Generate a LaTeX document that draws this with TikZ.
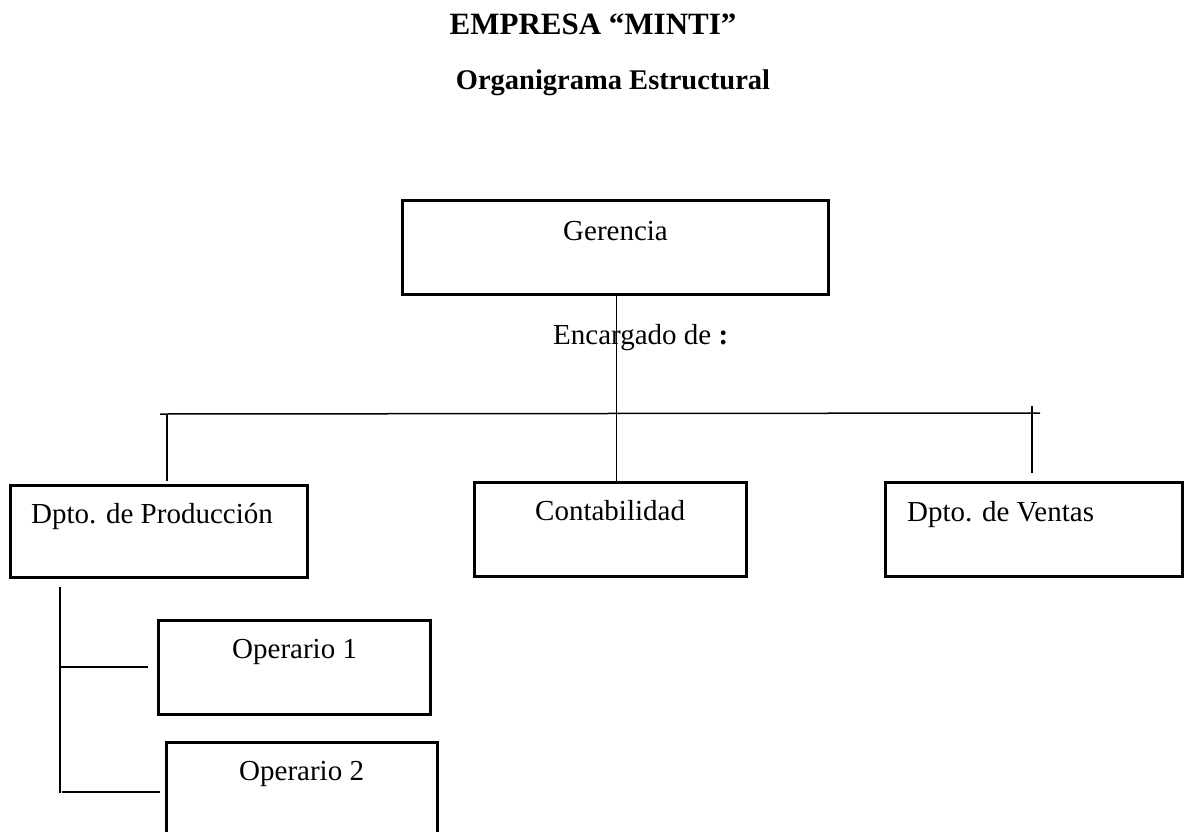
\documentclass[tikz,border=0pt]{standalone}
\usepackage{fontspec}
\setmainfont{Liberation Serif}
\begin{document}
\begin{tikzpicture}[x=1pt,y=-1pt,
  unit/.style={draw=black,line width=3pt,rectangle,inner sep=0pt},
  lbl/.style={anchor=base west,inner sep=0pt,font=\fontsize{29}{34}\selectfont},
  ttl/.style={anchor=base,inner sep=0pt,font=\fontsize{30}{34}\selectfont\bfseries},
  link/.style={draw=black,line width=1.5pt}]
\useasboundingbox (0,0) rectangle (1184,831);
\clip (0,0) rectangle (1184,831);

% headings
\node[ttl,font=\fontsize{31}{36}\selectfont\bfseries] (title) at (593,34) {EMPRESA “MINTI”};
\node[ttl,font=\fontsize{28.5}{34}\selectfont\bfseries] (subtitle) at (613,89) {Organigrama Estructural};

% units
\node[unit,minimum width=426pt,minimum height=94pt] (ger) at (615,247) {};
\node[unit,minimum width=297pt,minimum height=92pt] (prod) at (158.5,531) {};
\node[unit,minimum width=272pt,minimum height=94pt] (cont) at (610,529) {};
\node[unit,minimum width=297pt,minimum height=94pt] (vent) at (1033.5,529) {};
\node[unit,minimum width=272pt,minimum height=94pt] (op1) at (294,667) {};
\node[unit,minimum width=271pt,minimum height=94pt] (op2) at (301.5,789) {};

% unit names
\node[lbl] (tger) at (563,240) {Gerencia};
\node[lbl] (tprod) at (31,523) {Dpto. de Producción};
\node[lbl] (tcont) at (535,520) {Contabilidad};
\node[lbl] (tvent) at (907,521) {Dpto. de Ventas};
\node[lbl] (top1) at (232,658) {Operario 1};
\node[lbl] (top2) at (239,780) {Operario 2};
\node[lbl] (enc) at (553,344) {Encargado de \textbf{:}};

% branch line
\coordinate (bl) at (160,414);
\coordinate (br) at (1040,413);
\coordinate (pl) at (167,414);
\coordinate (pe) at (167,481);
\coordinate (vt) at (1032,406);
\coordinate (ve) at (1032,473);
\path (ger.south) ++(1.5,0) coordinate (gs);
\draw[link] (gs) -- (gs |- cont.north);
\draw[link] (bl) -- (br);
\draw[link] (pl) -- (pe);
\draw[link] (vt) -- (ve);

% production staff
\coordinate (st) at (60,587);
\coordinate (sb) at (60,793);
\coordinate (s1) at (60,667);
\coordinate (e1) at (148,667);
\coordinate (s2) at (62,792);
\coordinate (e2) at (160,792);
\draw[link] (st) -- (sb);
\draw[link] (s1) -- (e1);
\draw[link] (s2) -- (e2);
\end{tikzpicture}
\end{document}
